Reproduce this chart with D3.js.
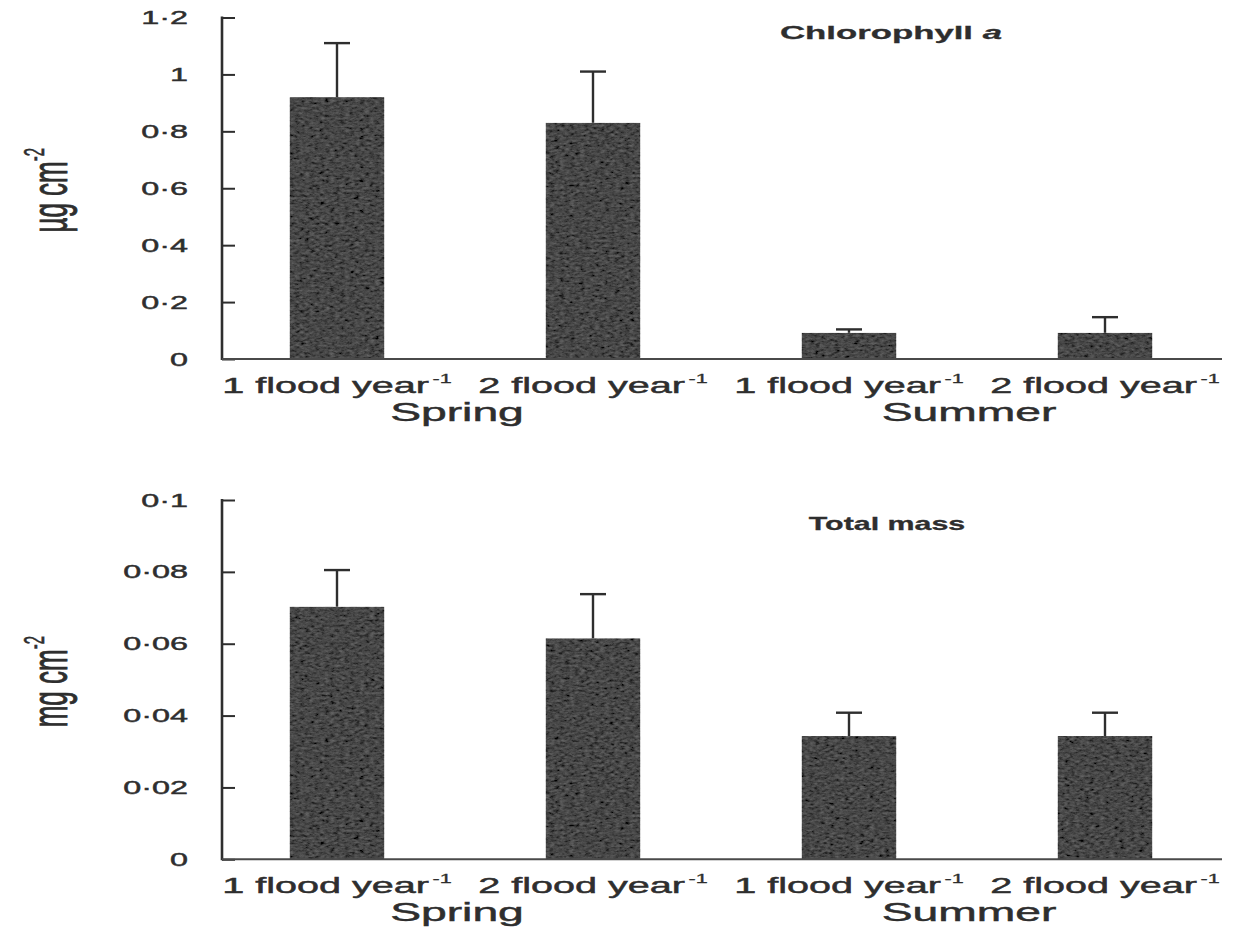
<!DOCTYPE html>
<html>
<head>
<meta charset="utf-8">
<script src="https://cdn.jsdelivr.net/npm/d3@7"></script>
<style>
  html, body { margin: 0; padding: 0; background: #fff; }
  svg { display: block; font-family: "Liberation Sans", Arial, sans-serif; }
</style>
</head>
<body>
<svg id="chart" width="1237" height="940"></svg>
<script>
// Treatments along the x axis
const treatments = ["1 flood year", "2 flood year", "1 flood year", "2 flood year"];
const seasons = ["Spring", "Spring", "Summer", "Summer"];
const seasonNames = ["Spring", "Summer"];

// Chlorophyll a (µg cm-2): means and upper standard errors
const chlMean = [0.92, 0.83, 0.092, 0.092];
const chlErr = [0.19, 0.18, 0.012, 0.055];
const chlTicks = [0, 0.2, 0.4, 0.6, 0.8, 1, 1.2];

// Total mass (mg cm-2): means and upper standard errors
const massMean = [0.0703, 0.0615, 0.0343, 0.0343];
const massErr = [0.0102, 0.0123, 0.0065, 0.0065];
const massTicks = [0, 0.02, 0.04, 0.06, 0.08, 0.1];

const svg = d3.select("#chart");
const ink = "#2e2e2e";
const SX = 1.85; // horizontal stretch of the lettering

// Mottled grain for the bars
const defs = svg.append("defs");
const grain = defs.append("filter").attr("id", "grain")
  .attr("x", 0).attr("y", 0).attr("width", 1).attr("height", 1);
grain.append("feTurbulence").attr("type", "fractalNoise")
  .attr("baseFrequency", "0.2 0.4").attr("numOctaves", 3).attr("seed", 7).attr("result", "noise");
grain.append("feColorMatrix").attr("in", "noise").attr("type", "matrix")
  .attr("values", "0.33 0.33 0.33 0 0  0.33 0.33 0.33 0 0  0.33 0.33 0.33 0 0  0 0 0 0 1")
  .attr("result", "gray");
grain.append("feComposite").attr("in", "SourceGraphic").attr("in2", "gray")
  .attr("operator", "arithmetic").attr("k1", 0).attr("k2", 1).attr("k3", 0.3).attr("k4", -0.14)
  .attr("result", "mix");
grain.append("feComposite").attr("in", "mix").attr("in2", "SourceAlpha").attr("operator", "in");

const fmt = v => (v === 0 ? "0" : String(+v.toFixed(3))).replace(".", "\u00B7");

function stretchedText(g, x, y, opts) {
  return g.append("text")
    .attr("transform", `translate(${x},${y}) scale(${opts.sx || SX},1)` + (opts.rotate ? ` rotate(${opts.rotate})` : ""))
    .attr("text-anchor", opts.anchor || "middle")
    .attr("font-size", opts.size)
    .attr("font-weight", opts.weight || "normal")
    .attr("fill", opts.fill || ink)
    .attr("stroke", opts.fill || ink)
    .attr("stroke-width", opts.stroke == null ? 0.45 : opts.stroke);
}

const x = d3.scaleBand()
  .domain(d3.range(treatments.length))
  .range([209, 1233])
  .paddingInner(0.63)
  .paddingOuter(0.315);

const axisLeft = 222, axisRight = 1222;

function panel(cfg) {
  const g = svg.append("g");
  const y = d3.scaleLinear().domain([0, cfg.max]).range([cfg.bottom, cfg.top]);

  // bars
  g.selectAll("rect.bar").data(cfg.mean).join("rect")
    .attr("class", "bar")
    .attr("x", (d, i) => x(i))
    .attr("width", x.bandwidth())
    .attr("y", d => y(d))
    .attr("height", d => y(0) - y(d))
    .attr("fill", "#414141")
    .attr("filter", "url(#grain)");

  // upper error bars
  const capW = 26;
  const eb = g.selectAll("g.err").data(cfg.mean).join("g").attr("class", "err");
  eb.append("line")
    .attr("x1", (d, i) => x(i) + x.bandwidth() / 2)
    .attr("x2", (d, i) => x(i) + x.bandwidth() / 2)
    .attr("y1", d => y(d))
    .attr("y2", (d, i) => y(d + cfg.err[i]))
    .attr("stroke", ink).attr("stroke-width", 2.4);
  eb.append("line")
    .attr("x1", (d, i) => x(i) + x.bandwidth() / 2 - capW / 2)
    .attr("x2", (d, i) => x(i) + x.bandwidth() / 2 + capW / 2)
    .attr("y1", (d, i) => y(d + cfg.err[i]))
    .attr("y2", (d, i) => y(d + cfg.err[i]))
    .attr("stroke", ink).attr("stroke-width", 2.4);

  // y axis with inward ticks
  const ya = g.append("g").attr("transform", `translate(${axisLeft},0)`)
    .call(d3.axisRight(y).tickValues(cfg.ticks).tickSize(13).tickFormat(""));
  ya.select(".domain").remove();
  ya.selectAll(".tick line").attr("stroke", ink).attr("stroke-width", 2);
  g.append("line")
    .attr("x1", axisLeft).attr("x2", axisLeft)
    .attr("y1", y(0) + 1).attr("y2", y(cfg.max) - 1)
    .attr("stroke", ink).attr("stroke-width", 2.6);

  // tick labels
  cfg.ticks.forEach(v => {
    stretchedText(g, 188, y(v) + 6.5, { size: 18.5, anchor: "end", sx: 1.75 }).text(fmt(v));
  });

  // x axis line
  g.append("line")
    .attr("x1", axisLeft).attr("x2", axisRight)
    .attr("y1", y(0)).attr("y2", y(0))
    .attr("stroke", "#4a4a4a").attr("stroke-width", 2);

  // treatment labels
  treatments.forEach((name, i) => {
    const t = stretchedText(g, x(i) + x.bandwidth() / 2, y(0) + 34, { size: 22, sx: 1.8 });
    t.append("tspan").text(name);
    t.append("tspan").attr("font-size", 12).attr("dx", 2).attr("dy", -10).attr("stroke-width", 0.3).text("-1");
  });

  // season labels
  seasonNames.forEach(s => {
    const idx = seasons.map((d, i) => (d === s ? i : -1)).filter(i => i >= 0);
    const cx = d3.mean(idx, i => x(i) + x.bandwidth() / 2);
    stretchedText(g, cx - 8, y(0) + 62, { size: 25 }).text(s);
  });

  // panel title
  const tt = stretchedText(g, cfg.titleX, cfg.titleY, { size: 19, weight: "bold", sx: cfg.titleSX, stroke: 0.3 });
  tt.append("tspan").text(cfg.title);
  if (cfg.titleItalic) tt.append("tspan").attr("font-style", "italic").text(" " + cfg.titleItalic);

  // y axis unit label
  const yl = stretchedText(g, 67, (cfg.top + cfg.bottom) / 2 + 2, { size: 26, rotate: -90, sx: 1.95 });
  yl.append("tspan").text(cfg.unit);
  yl.append("tspan").attr("font-size", 15).attr("dy", -12).attr("stroke-width", 0.3).text("-2");
}

panel({
  mean: chlMean, err: chlErr, ticks: chlTicks, max: 1.2,
  top: 17.5, bottom: 359,
  title: "Chlorophyll", titleItalic: "a", titleX: 891, titleY: 39, titleSX: 1.83,
  unit: "\u00B5g cm"
});

panel({
  mean: massMean, err: massErr, ticks: massTicks, max: 0.1,
  top: 500, bottom: 859.3,
  title: "Total mass", titleX: 887, titleY: 530, titleSX: 1.6,
  unit: "mg cm"
});
</script>
</body>
</html>
